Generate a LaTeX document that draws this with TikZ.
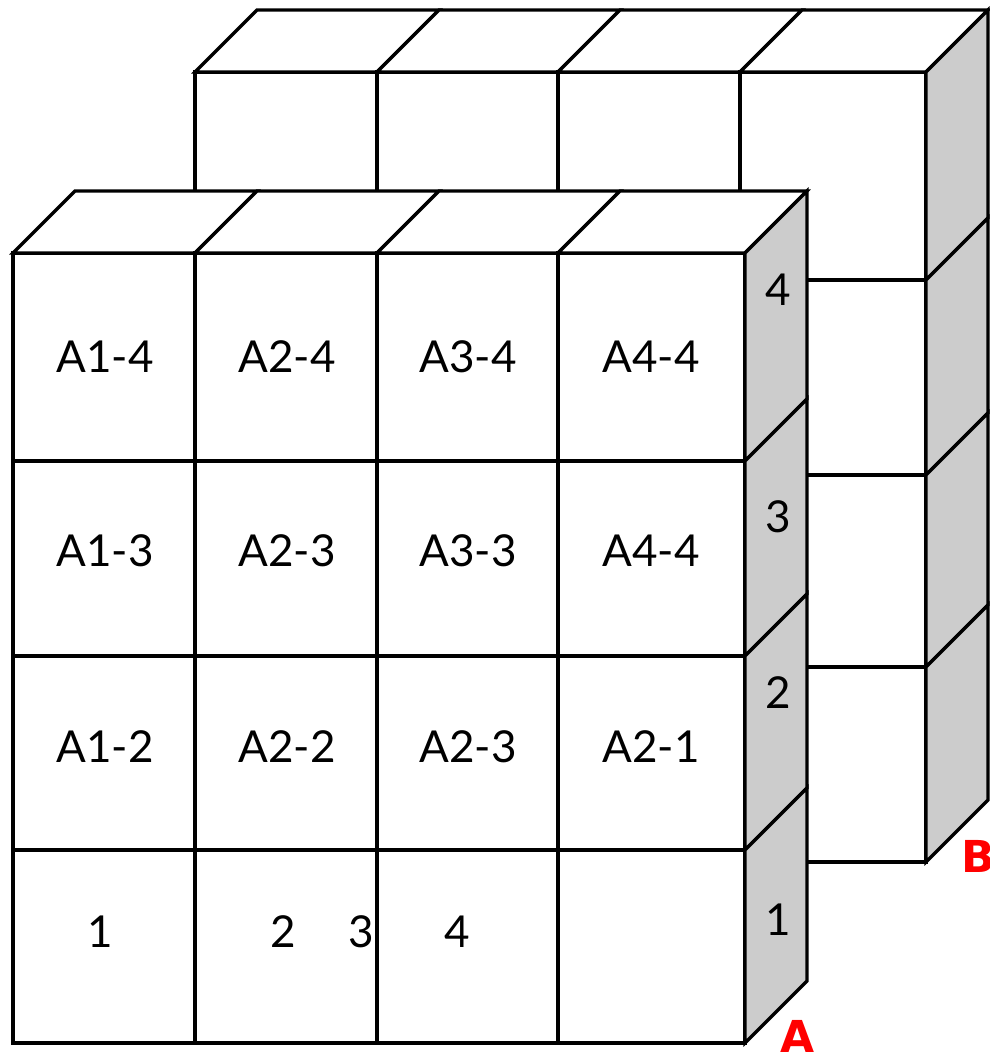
\documentclass[tikz,border=0pt]{standalone}
\usepackage{fontspec}
\setmainfont{Lato}
\newfontfamily\labfont{DejaVu Sans}
\definecolor{sidegray}{HTML}{CCCCCC}
\definecolor{tagred}{HTML}{FF0000}
\begin{document}
\begin{tikzpicture}[x={(1pt,0pt)}, y={(0pt,-1pt)}, line width=3.3pt,
  face/.style={draw=black, fill=white},
  sideface/.style={draw=black, fill=sidegray},
  cell/.style={font=\fontsize{44}{48}\selectfont, inner sep=0pt},
  tag/.style={font=\labfont\bfseries\fontsize{44}{48}\selectfont, text=tagred, inner sep=0pt}]
\useasboundingbox (0,0) rectangle (989,1055);
% ---------- block B (back) ----------
\foreach \xa/\xb in {195/377,377/558,558/740,740/926}{
  \foreach \ya/\yb in {72/280,280/475,475/667,667/862}{
    \draw[face] (\xa,\ya) rectangle (\xb,\yb);
  }
  \draw[face] (\xa,72) -- (\xa+62,10) -- (\xb+62,10) -- (\xb,72) -- cycle;
}
\foreach \ya/\yb in {72/280,280/475,475/667,667/862}{
  \draw[sideface] (926,\ya) -- (988,\ya-62) -- (988,\yb-62) -- (926,\yb) -- cycle;
}
% ---------- block A (front) ----------
\foreach \xa/\xb in {13/195,195/377,377/558,558/745}{
  \foreach \ya/\yb in {253/461,461/656,656/850,850/1043}{
    \draw[face] (\xa,\ya) rectangle (\xb,\yb);
  }
  \draw[face] (\xa,253) -- (\xa+62,191) -- (\xb+62,191) -- (\xb,253) -- cycle;
}
\foreach \ya/\yb in {253/461,461/656,656/850,850/1043}{
  \draw[sideface] (745,\ya) -- (807,\ya-62) -- (807,\yb-62) -- (745,\yb) -- cycle;
}
% ---------- cell labels ----------
\node[cell] (a14) at (105,357) {A1-4};
\node[cell] (a24) at (287,357) {A2-4};
\node[cell] (a34) at (468,357) {A3-4};
\node[cell] (a44) at (651,357) {A4-4};
\node[cell] (a13) at (105,551) {A1-3};
\node[cell] (a23) at (287,551) {A2-3};
\node[cell] (a33) at (468,551) {A3-3};
\node[cell] (a43) at (651,551) {A4-4};
\node[cell] (a12) at (105,747) {A1-2};
\node[cell] (a22) at (287,747) {A2-2};
\node[cell] (a32) at (468,747) {A2-3};
\node[cell] (a42) at (651,747) {A2-1};
\node[cell] (b1) at (100,932) {1};
\node[cell] (b2) at (283,932) {2};
\node[cell] (b3) at (361,932) {3};
\node[cell] (b4) at (457,932) {4};
% ---------- side labels ----------
\node[cell] (s4) at (778,290) {4};
\node[cell] (s3) at (778,517) {3};
\node[cell] (s2) at (778,693) {2};
\node[cell] (s1) at (778,920) {1};
% ---------- block tags ----------
\node[tag] (tagA) at (798,1036) {A};
\node[tag] (tagB) at (978,856) {B};
\end{tikzpicture}
\end{document}
